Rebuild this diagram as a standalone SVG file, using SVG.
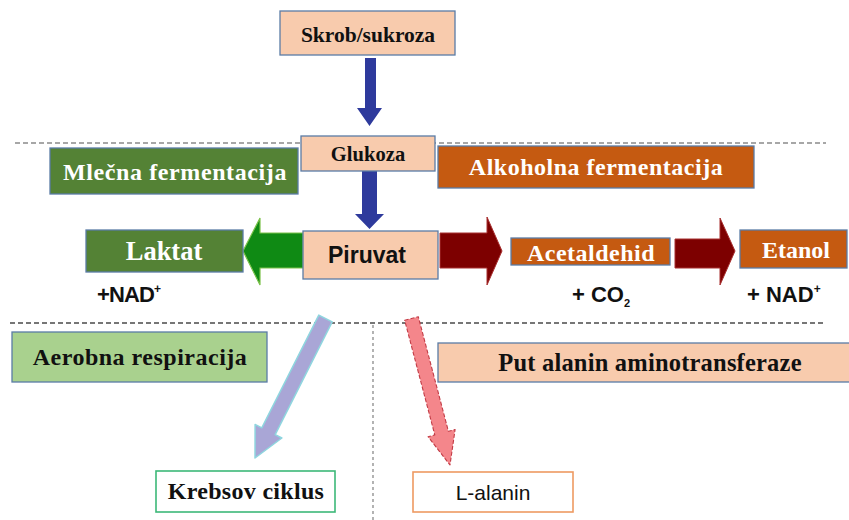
<svg xmlns="http://www.w3.org/2000/svg" width="849" height="520" viewBox="0 0 849 520">
  <style>
    .box { stroke: #5a7ca6; stroke-width: 1.3; }
    .peach { fill: #f8cbad; }
    .dgreen { fill: #548235; }
    .lgreen { fill: #a9d18e; }
    .orange { fill: #c55a11; }
    .serif { font-family: "Liberation Serif", "Times New Roman", serif; font-weight: bold; text-anchor: middle; }
    .white { fill: #ffffff; }
    .dark { fill: #111111; }
    .sans { font-family: "Liberation Sans", Arial, sans-serif; text-anchor: middle; fill: #111111; }
    .cof { font-family: "Liberation Sans", Arial, sans-serif; font-weight: bold; font-size: 22px; fill: #111111; }
    .sep { fill: none; stroke-dasharray: 5 3; }
  </style>

  <rect width="849" height="520" fill="#ffffff"/>

  <!-- section separators -->
  <g id="separators">
    <line class="sep" x1="15" y1="143" x2="826" y2="143" stroke="#8a8a8a" stroke-width="1.5"/>
    <line class="sep" x1="10" y1="323" x2="826" y2="323" stroke="#4a4a4a" stroke-width="1.6"/>
    <line x1="373" y1="325" x2="373" y2="520" stroke="#8a8a8a" stroke-width="1.3" stroke-dasharray="3 3"/>
  </g>

  <!-- pathway arrows -->
  <g id="connectors">
    <!-- Skrob/sukroza to Glukoza -->
    <polygon points="365,58 376,58 376,108 382,108 369.5,126 357,108 365,108" fill="#2e3a9c"/>
    <!-- Glukoza to Piruvat -->
    <polygon points="362,171 377,171 377,214 384,214 369.5,229 355,214 362,214" fill="#2e3a9c"/>
    <!-- Piruvat to Laktat -->
    <polygon points="303,233 260,233 260,218 243,251 260,285 260,268 303,268" fill="#0f8a14" stroke="#7cc24a" stroke-width="1.2"/>
    <!-- Piruvat to Acetaldehid -->
    <polygon points="440,233 487,233 487,217 502,251 487,285 487,268 440,268" fill="#7d0000" stroke="#a83030" stroke-width="1"/>
    <!-- Acetaldehid to Etanol -->
    <polygon points="675,239 720,239 720,218 735,251 720,285 720,268 675,268" fill="#7d0000" stroke="#a83030" stroke-width="1"/>
    <!-- Piruvat to Krebsov ciklus -->
    <polygon points="318.8,315.1 332.2,321.9 275.2,434.6 281.9,438 255,458 255.1,424.4 261.8,427.8" fill="#a9a6d6" stroke="#8fd6df" stroke-width="1.5" stroke-linejoin="round"/>
    <!-- Piruvat to L-alanin -->
    <polygon points="404.7,320.3 418.3,316.7 448.4,431.3 455.1,429.5 450,465 428.1,436.7 434.8,434.9" fill="#f4868b" stroke="#c23b45" stroke-width="1.1" stroke-dasharray="4 2" stroke-linejoin="round"/>
  </g>

  <g id="skrob">
    <rect class="box peach" x="280" y="11" width="175" height="44"/>
    <text class="serif dark" x="368" y="42" font-size="21.5">Skrob/sukroza</text>
  </g>

  <g id="glukoza">
    <rect class="box peach" x="301" y="136" width="134" height="35"/>
    <text class="serif dark" x="368" y="161" font-size="20.5" letter-spacing="0.1">Glukoza</text>
  </g>

  <g id="mlecna">
    <rect class="box dgreen" x="50" y="148" width="248" height="46"/>
    <text class="serif white" x="175" y="180" font-size="24" letter-spacing="0.6">Mlečna fermentacija</text>
  </g>

  <g id="alkoholna">
    <rect class="box orange" x="438" y="146" width="316" height="42"/>
    <text class="serif white" x="596" y="175" font-size="24" letter-spacing="0.5">Alkoholna fermentacija</text>
  </g>

  <g id="piruvat">
    <rect class="box peach" x="303" y="231" width="135" height="48"/>
    <text x="367" y="263" font-family="Liberation Sans, Arial, sans-serif" font-weight="bold" font-size="23" text-anchor="middle" fill="#111111">Piruvat</text>
  </g>

  <g id="laktat">
    <rect class="box dgreen" x="86" y="230" width="157" height="42"/>
    <text class="serif white" x="164" y="260" font-size="26.5">Laktat</text>
  </g>

  <g id="acetaldehid">
    <rect class="box orange" x="511" y="238" width="159" height="27"/>
    <text class="serif white" x="591" y="261" font-size="24" letter-spacing="0.5">Acetaldehid</text>
  </g>

  <g id="etanol">
    <rect class="box orange" x="740" y="230" width="107" height="38"/>
    <text class="serif white" x="796" y="258" font-size="24">Etanol</text>
  </g>

  <g id="cofactors">
    <text class="cof" x="97" y="302" letter-spacing="-0.9">+NAD<tspan font-size="12" dy="-9">+</tspan></text>
    <text class="cof" x="572" y="302">+ CO<tspan font-size="11" dy="5">2</tspan></text>
    <text class="cof" x="747" y="302">+ NAD<tspan font-size="12" dy="-9">+</tspan></text>
  </g>

  <g id="aerobna">
    <rect class="box lgreen" x="12" y="332" width="255" height="50"/>
    <text class="serif dark" x="140" y="365" font-size="24" letter-spacing="0.5">Aerobna respiracija</text>
  </g>

  <g id="alanin-put">
    <rect class="box peach" x="438" y="343" width="413" height="39"/>
    <text class="serif dark" x="650" y="371" font-size="24.5" letter-spacing="0.2">Put alanin aminotransferaze</text>
  </g>

  <g id="krebs">
    <rect x="156" y="471" width="179" height="41" fill="#ffffff" stroke="#3cb878" stroke-width="1.6"/>
    <text class="serif dark" x="246" y="499" font-size="24" letter-spacing="0.3">Krebsov ciklus</text>
  </g>

  <g id="l-alanin">
    <rect x="413" y="472" width="160" height="40" fill="#ffffff" stroke="#ee9a62" stroke-width="1.6"/>
    <text class="sans" x="493" y="500" font-size="21">L-alanin</text>
  </g>
</svg>
